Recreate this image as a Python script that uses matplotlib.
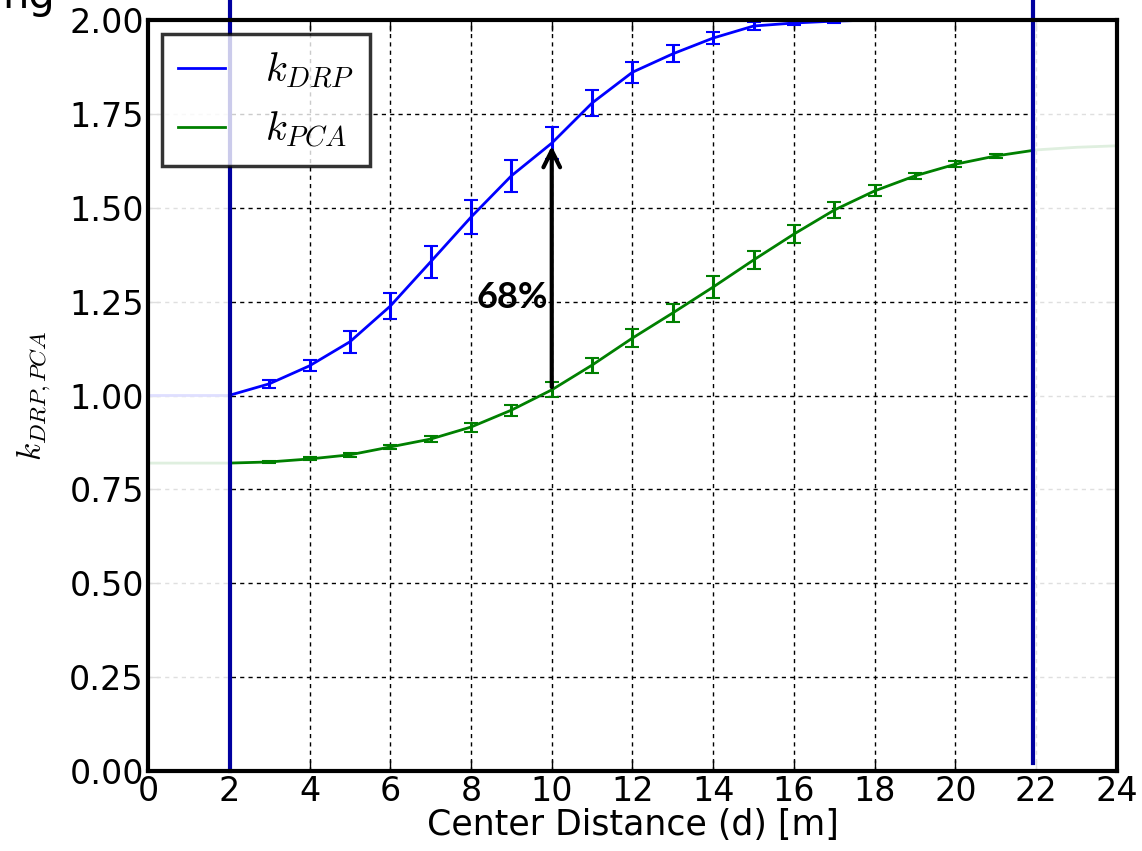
import matplotlib
matplotlib.use('Agg')

import numpy as np
import matplotlib.pyplot as plt

plt.rcParams['mathtext.fontset'] = 'cm'
plt.rcParams['font.family'] = 'DejaVu Sans'

# center distance [m]
dist = list(range(0, 25))

# k_DRP (blue) and its error bars
k_drp = [1.000, 1.000, 1.000, 1.031, 1.079, 1.143, 1.238, 1.356, 1.475, 1.585,
         1.672, 1.779, 1.861, 1.910, 1.952, 1.984, 1.992, 1.997, 2.000, 2.000,
         2.000, 2.000, 2.000, 2.000, 2.000]
drp_err = [0, 0, 0, 0.010, 0.015, 0.030, 0.035, 0.042, 0.045, 0.042,
           0.043, 0.035, 0.028, 0.023, 0.016, 0.010, 0.006, 0.004, 0, 0,
           0, 0, 0, 0, 0]

# k_PCA (green) and its error bars
k_pca = [0.820, 0.820, 0.820, 0.823, 0.831, 0.842, 0.863, 0.884, 0.916, 0.961,
         1.015, 1.081, 1.153, 1.220, 1.289, 1.361, 1.430, 1.494, 1.545, 1.585,
         1.616, 1.638, 1.654, 1.661, 1.665]
pca_err = [0, 0, 0, 0.003, 0.004, 0.005, 0.006, 0.008, 0.012, 0.015,
           0.020, 0.020, 0.025, 0.025, 0.030, 0.025, 0.025, 0.020, 0.015, 0.008,
           0.008, 0.005, 0, 0, 0]

# measured range limits (vertical markers)
limits = [2.03, 21.91]
arrow_x = 10
gain_label = '68%'

fig = plt.figure(figsize=(11.42, 8.51), dpi=100)
ax = fig.add_axes([0.1296, 0.094, 0.8485, 0.8825])

ax.plot(dist, k_drp, color='blue', lw=2, label=r'$k_{DRP}$', zorder=3)
ax.plot(dist, k_pca, color='green', lw=2, label=r'$k_{PCA}$', zorder=3)

idx_d = [i for i in range(len(dist)) if drp_err[i] > 0]
ax.errorbar([dist[i] for i in idx_d], [k_drp[i] for i in idx_d],
            yerr=[drp_err[i] for i in idx_d], fmt='none', ecolor='blue',
            elinewidth=2.2, capsize=5, capthick=1.5, zorder=3)
idx_p = [i for i in range(len(dist)) if pca_err[i] > 0]
ax.errorbar([dist[i] for i in idx_p], [k_pca[i] for i in idx_p],
            yerr=[pca_err[i] for i in idx_p], fmt='none', ecolor='green',
            elinewidth=2.2, capsize=5, capthick=1.5, zorder=3)

# fade everything outside the measured range
ax.axvspan(0, limits[0], color='white', alpha=0.88, lw=0, zorder=4)
ax.axvspan(limits[1], 24, color='white', alpha=0.88, lw=0, zorder=4)

# vertical markers, running up past the axes
ax.plot([limits[0], limits[0]], [0, 2.06], color='#0000a0', lw=3,
        clip_on=False, zorder=6)
ax.plot([limits[1], limits[1]], [0.02, 2.06], color='#0000a0', lw=3,
        clip_on=False, zorder=6)

# gain arrow
i10 = dist.index(arrow_x)
ax.annotate('', xy=(arrow_x, k_drp[i10]), xytext=(arrow_x, k_pca[i10]),
            arrowprops=dict(arrowstyle='->', color='black', lw=3,
                            mutation_scale=30), zorder=5)
ax.text(arrow_x - 0.1, 1.26, gain_label, fontsize=26, fontweight='bold',
        family=['Lato', 'DejaVu Sans'], ha='right', va='center', zorder=5)

ax.set_xlim(0, 24)
ax.set_ylim(0, 2.0)
ax.set_xticks(np.arange(0, 25, 2))
ax.set_yticks(np.arange(0, 2.01, 0.25))
ax.set_yticklabels(['%.2f' % v for v in np.arange(0, 2.01, 0.25)])
ax.tick_params(direction='in', length=8, width=1, labelsize=24,
               top=True, right=True, pad=3)
ax.grid(True, color='black', linestyle=(0, (3, 3)), lw=1)
for s in ax.spines.values():
    s.set_linewidth(3)
    s.set_zorder(7)

ax.set_xlabel('Center Distance (d) [m]', fontsize=25, labelpad=0)
ax.set_ylabel(r'$k_{DRP,PCA}$', fontsize=24, labelpad=12)

leg = ax.legend(loc='upper left', fontsize=29, fancybox=False,
                handlelength=1.15, handletextpad=1.0, borderpad=0.4,
                labelspacing=0.45, borderaxespad=0.35)
leg.get_frame().set_edgecolor('black')
leg.get_frame().set_linewidth(2.5)
leg.set_zorder(8)

# cropped caption fragment at the top-left corner
fig.text(0.048, 0.991, 'ng', fontsize=30, ha='right', va='baseline')

fig.savefig('out.png', dpi=100)
